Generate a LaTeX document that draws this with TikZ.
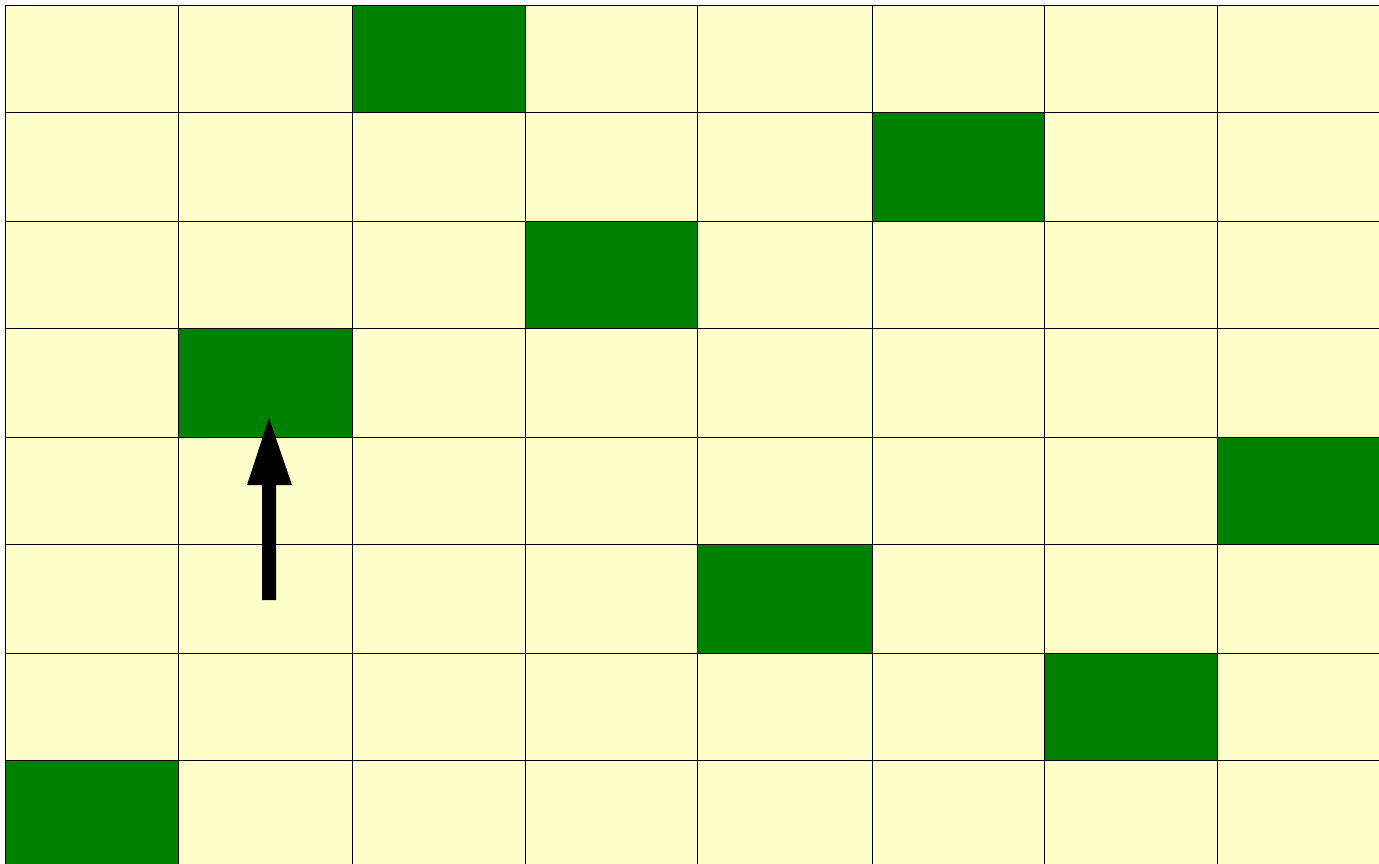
\documentclass[tikz,border=0pt]{standalone}
\definecolor{cellyellow}{HTML}{FFFFCC}
\definecolor{queengreen}{HTML}{008000}
\tikzset{
  cell/.style={fill=cellyellow, draw=black, line width=0.8pt},
  queen/.style={fill=queengreen, draw=black, line width=0.8pt},
  arrowshape/.style={fill=black, draw=none}
}
\begin{document}
\begin{tikzpicture}[x=1pt,y=-1pt]
\useasboundingbox (0,0) rectangle (1379,864);
\fill[white] (0,0) rectangle (1379,864);
\def\xs{{5,178,352,525,697,872,1044,1217,1390}}
\def\ys{{5,112,221,328,437,544,653,760,868}}
\foreach \r in {0,...,7}{
  \foreach \c in {0,...,7}{
    \pgfmathsetmacro{\xa}{\xs[\c]}
    \pgfmathsetmacro{\xb}{\xs[\c+1]}
    \pgfmathsetmacro{\ya}{\ys[\r]}
    \pgfmathsetmacro{\yb}{\ys[\r+1]}
    \draw[cell] (\xa,\ya) rectangle (\xb,\yb);
  }
}
\foreach \r/\c in {0/2,1/5,2/3,3/1,4/7,5/4,6/6,7/0}{
  \pgfmathsetmacro{\xa}{\xs[\c]}
  \pgfmathsetmacro{\xb}{\xs[\c+1]}
  \pgfmathsetmacro{\ya}{\ys[\r]}
  \pgfmathsetmacro{\yb}{\ys[\r+1]}
  \draw[queen] (\xa,\ya) rectangle (\xb,\yb);
}
\fill[arrowshape] (262,600) -- (262,485) -- (247,485) -- (269,418) -- (292,485) -- (276,485) -- (276,600) -- cycle;
\end{tikzpicture}
\end{document}
